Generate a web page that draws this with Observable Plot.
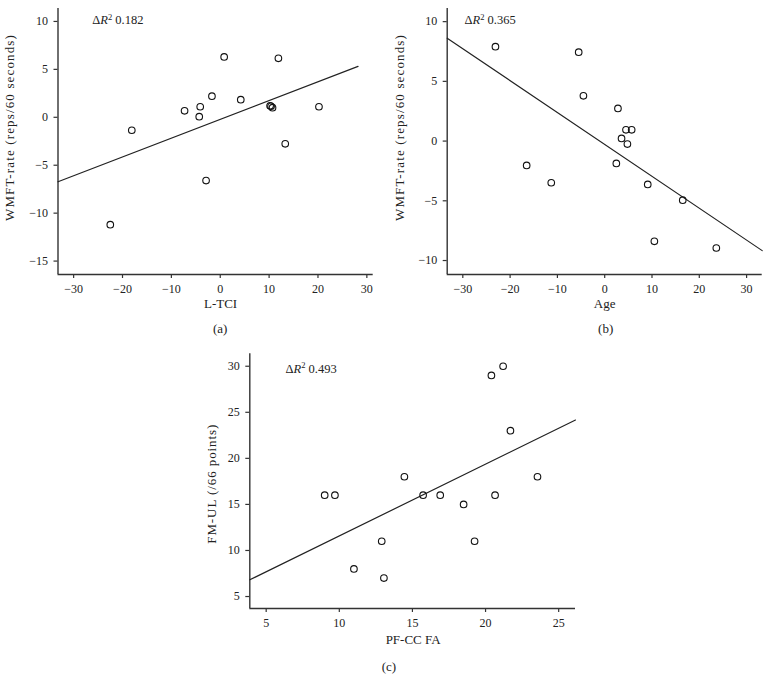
<!DOCTYPE html>
<html><head><meta charset="utf-8">
<script src="https://cdn.jsdelivr.net/npm/d3@7"></script>
<script src="https://cdn.jsdelivr.net/npm/@observablehq/plot@0.6"></script>
<style>
body{margin:0;background:#fff;}
#wrap{position:relative;width:780px;height:696px;background:#fff;font-family:"Liberation Serif",serif;}
#wrap svg{position:absolute;}
</style></head><body><div id="wrap"></div>
<script>
// Panel (a): L-TCI vs WMFT-rate
const aX = [-22.5, -18.1, -7.3, -4.3, -4.1, -2.9, -1.7, 0.8, 4.2, 10.2, 10.4, 10.7, 11.9, 13.3, 20.2];
const aY = [-11.2, -1.35, 0.67, 0.07, 1.1, -6.6, 2.2, 6.3, 1.84, 1.2, 1.15, 1.0, 6.15, -2.77, 1.1];
const aFit = {slope: 0.196, intercept: -0.22, from: -33.2, to: 28.2};
const aXTicks = [-30, -20, -10, 0, 10, 20, 30];
const aYTicks = [-15, -10, -5, 0, 5, 10];

// Panel (b): Age vs WMFT-rate
const bX = [-23.1, -16.5, -11.3, -5.5, -4.5, 2.46, 2.8, 3.56, 4.5, 4.8, 5.7, 9.1, 10.5, 16.5, 23.6];
const bY = [7.9, -2.04, -3.49, 7.44, 3.79, -1.87, 2.73, 0.22, 0.94, -0.25, 0.94, -3.63, -8.39, -4.95, -8.95];
const bFit = {slope: -0.267, intercept: -0.28, from: -33.3, to: 33.3};
const bXTicks = [-30, -20, -10, 0, 10, 20, 30];
const bYTicks = [-10, -5, 0, 5, 10];

// Panel (c): PF-CC FA vs FM-UL
const cX = [9.0, 9.7, 11.0, 12.9, 13.05, 14.45, 15.73, 16.9, 18.5, 19.25, 20.4, 20.65, 21.2, 21.7, 23.55];
const cY = [16, 16, 8, 11, 7, 18, 16, 16, 15, 11, 29, 16, 30, 23, 18];
const cFit = {slope: 0.779, intercept: 3.79, from: 3.88, to: 26.15};
const cXTicks = [5, 10, 15, 20, 25];
const cYTicks = [5, 10, 15, 20, 25, 30];

const FONT = "'Liberation Serif', 'Times New Roman', serif";

function panel(o) {
  const pts = o.xs.map((x, i) => ({x, y: o.ys[i]}));
  const fitPts = [o.fit.from, o.fit.to].map(x => ({x, y: o.fit.intercept + o.fit.slope * x}));
  const svg = Plot.plot({
    width: o.width, height: o.height,
    marginLeft: o.mL, marginRight: o.mR, marginTop: o.mT, marginBottom: o.mB,
    style: {fontFamily: FONT, fontSize: "12px", color: "#222", background: "transparent", overflow: "visible"},
    x: {domain: o.xDomain},
    y: {domain: o.yDomain},
    marks: [
      Plot.axisX({ticks: o.xTicks, tickSize: 4, tickPadding: 6, label: null, stroke: "#333", strokeWidth: 1.2, fontSize: 12}),
      Plot.axisY({ticks: o.yTicks, tickSize: 4, tickPadding: 6, label: null, stroke: "#333", strokeWidth: 1.2, fontSize: 12}),
      Plot.ruleX([o.xDomain[0]], {stroke: "#333", strokeWidth: 1.4}),
      Plot.ruleY([o.yDomain[0]], {stroke: "#333", strokeWidth: 1.4}),
      Plot.line(fitPts, {x: "x", y: "y", stroke: "#222", strokeWidth: 1.2}),
      Plot.dot(pts, {x: "x", y: "y", r: 3.3, stroke: "#111", strokeWidth: 1.1, fill: "none"}),
      Plot.text([o.xLabel], {frameAnchor: "bottom", textAnchor: "middle", dx: o.xlDx, dy: o.xlDy, fontSize: 13, fill: "#222"}),
      Plot.text([o.yLabel], {frameAnchor: "left", textAnchor: "middle", rotate: -90, dx: o.ylDx, dy: o.ylDy, fontSize: 13, fill: "#222", className: "ylab"}),
      Plot.text([o.tag], {frameAnchor: "bottom", textAnchor: "middle", dx: o.tagDx, dy: o.tagDy, fontSize: 13, fill: "#222"}),
      Plot.text([o.dr2], {frameAnchor: "top-left", textAnchor: "start", dx: o.drDx, dy: o.drDy, fontSize: 12.5, fill: "#222", className: "dr2"})
    ]
  });
  svg.style.left = o.left + "px";
  svg.style.top = o.top + "px";
  // delta R^2 with italic R and superscript 2
  d3.select(svg).selectAll(".dr2 text").each(function() {
    const t = d3.select(this);
    const val = this.textContent;
    t.text(null);
    t.append("tspan").text("\u0394");
    t.append("tspan").attr("font-style", "italic").text("R");
    t.append("tspan").attr("font-size", 8.5).attr("dy", -4.5).text("2");
    t.append("tspan").attr("dy", 4.5).text(" " + val);
  });
  document.getElementById("wrap").appendChild(svg);
  // widen the y label's letter spacing to match the reference length
  d3.select(svg).selectAll(".ylab text").each(function() {
    const len = this.getComputedTextLength();
    const n = this.textContent.length;
    if (len < o.ylLen && n > 1) {
      this.style.letterSpacing = ((o.ylLen - len) / n) + "px";
    }
  });
}

panel({xs: aX, ys: aY, fit: aFit, xTicks: aXTicks, yTicks: aYTicks,
  xDomain: [-33.2, 31.3], yDomain: [-16.4, 11.35],
  left: 0, top: 0, width: 390, height: 340, mL: 57.5, mR: 17.3, mT: 8, mB: 66,
  xLabel: "L-TCI", xlDx: 5, xlDy: 33,
  yLabel: "WMFT-rate (reps/60 seconds)", ylDx: -48, ylDy: -14, ylLen: 187,
  tag: "(a)", tagDx: 4.5, tagDy: 58,
  dr2: "0.182", drDx: 34.2, drDy: 7});

panel({xs: bX, ys: bY, fit: bFit, xTicks: bXTicks, yTicks: bYTicks,
  xDomain: [-33.3, 33.3], yDomain: [-11.17, 11.1],
  left: 390, top: 0, width: 390, height: 340, mL: 56.7, mR: 18.3, mT: 8, mB: 66,
  xLabel: "Age", xlDx: 0, xlDy: 33,
  yLabel: "WMFT-rate (reps/60 seconds)", ylDx: -47.4, ylDy: -14, ylLen: 187,
  tag: "(b)", tagDx: 1, tagDy: 58,
  dr2: "0.365", drDx: 17.3, drDy: 7});

panel({xs: cX, ys: cY, fit: cFit, xTicks: cXTicks, yTicks: cYTicks,
  xDomain: [3.88, 26.15], yDomain: [3.7, 31.35],
  left: 190, top: 340, width: 400, height: 356, mL: 59.3, mR: 15, mT: 13.3, mB: 88,
  xLabel: "PF-CC FA", xlDx: 0.5, xlDy: 35.5,
  yLabel: "FM-UL (/66 points)", ylDx: -37.6, ylDy: 2.6, ylLen: 120,
  tag: "(c)", tagDx: -23.7, tagDy: 62,
  dr2: "0.493", drDx: 35.7, drDy: 10});
</script></body></html>
